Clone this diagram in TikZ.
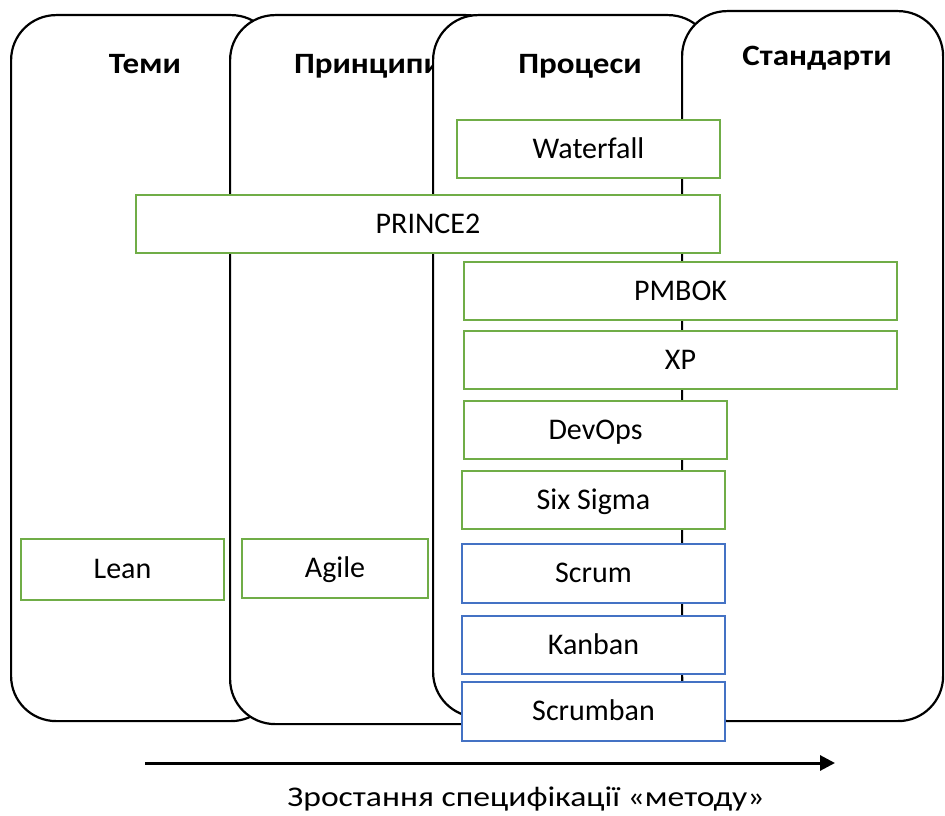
\documentclass[tikz,border=0pt]{standalone}
\usepackage{fontspec}
\setmainfont{Carlito}
\newfontfamily\widefont[FakeStretch=1.12]{Carlito}
\newfontfamily\labelfont[FakeStretch=1.18]{Carlito}
\usetikzlibrary{arrows.meta}
\definecolor{boxgreen}{HTML}{70AD47}
\definecolor{boxblue}{HTML}{4472C4}
\begin{document}
\begin{tikzpicture}[
  x=1pt, y=-1pt,
  card/.style={draw, line width=2.2pt, fill=white, rounded corners=45pt, anchor=north west, inner sep=0pt},
  title/.style={anchor=base, font=\widefont\fontsize{29.5}{34}\selectfont\bfseries},
  method/.style={draw=boxgreen, line width=2pt, fill=white, anchor=north west, minimum height=58pt,
    inner sep=0pt, text height=21pt, text depth=3pt, font=\fontsize{30}{34}\selectfont},
  agile/.style={method, draw=boxblue},
  line/.style={-{Triangle[length=15pt,width=15pt]}, line width=3pt}
]
\useasboundingbox (0,0) rectangle (945,816);

\node[card, minimum width=265pt, minimum height=706pt] (temy) at (10,14) {};
\node[title] (temyT) at (145,74) {Теми};
\node[card, minimum width=281pt, minimum height=709pt] (pryntsypy) at (229,14) {};
\node[title] (pryntsypyT) at (368,74) {Принципи};
\node[card, minimum width=280pt, minimum height=702pt] (protsesy) at (432,14) {};
\node[title] (protsesyT) at (580,74) {Процеси};
\node[card, minimum width=261pt, minimum height=710pt] (standarty) at (681,10) {};
\node[title] (standartyT) at (817,66) {Стандарти};

\node[method, minimum width=263pt] (waterfall) at (456,119) {Waterfall};
\node[method, minimum width=584pt] (prince) at (135,194) {PRINCE2};
\node[method, minimum width=433pt] (pmbok) at (463,261) {PMBOK};
\node[method, minimum width=433pt] (xp) at (463,330) {XP};
\node[method, minimum width=263pt] (devops) at (463,400) {DevOps};
\node[method, minimum width=263pt] (sixsigma) at (461,470) {Six Sigma};
\node[agile, minimum width=263pt, minimum height=59pt] (scrum) at (461,543) {Scrum};
\node[agile, minimum width=263pt] (kanban) at (461,615) {Kanban};
\node[agile, minimum width=263pt, minimum height=59pt] (scrumban) at (461,681) {Scrumban};
\node[method, minimum width=203pt, minimum height=61pt] (lean) at (20,538) {Lean};
\node[method, minimum width=186pt, minimum height=59pt] (agileM) at (241,538) {Agile};

\coordinate (arrS) at (145,763);
\coordinate (arrE) at (835,763);
\draw[line] (arrS) -- (arrE);
\node[anchor=base, font=\labelfont\fontsize{28.5}{34}\selectfont] (growth) at (526,806) {Зростання специфікації «методу»};
\end{tikzpicture}
\end{document}
